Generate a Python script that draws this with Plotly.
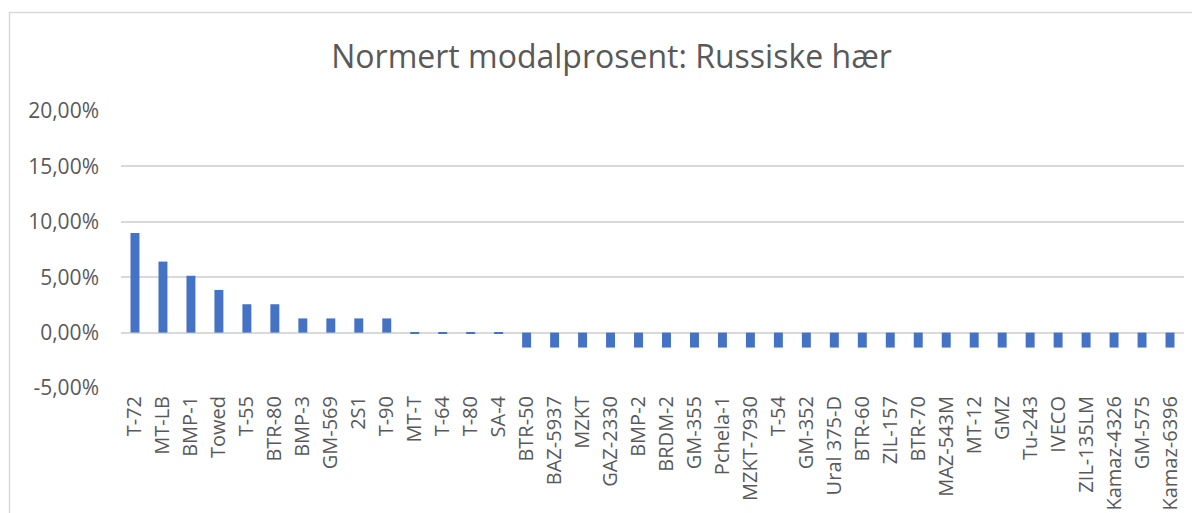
import plotly.graph_objects as go

categories = ["T-72", "MT-LB", "BMP-1", "Towed", "T-55", "BTR-80", "BMP-3", "GM-569", "2S1", "T-90",
              "MT-T", "T-64", "T-80", "SA-4", "BTR-50", "BAZ-5937", "MZKT", "GAZ-2330", "BMP-2", "BRDM-2",
              "GM-355", "Pchela-1", "MZKT-7930", "T-54", "GM-352", "Ural 375-D", "BTR-60", "ZIL-157",
              "BTR-70", "MAZ-543M", "MT-12", "GMZ", "Tu-243", "IVECO", "ZIL-135LM", "Kamaz-4326",
              "GM-575", "Kamaz-6396"]
values = [0.0898, 0.0641, 0.0513, 0.0385, 0.0256, 0.0256, 0.0128, 0.0128, 0.0128, 0.0128,
          -0.0005, -0.0005, -0.0005, -0.0005] + [-0.0135] * 24

tick_vals = [-0.05, 0.0, 0.05, 0.10, 0.15, 0.20]
tick_text = ["-5,00%", "0,00%", "5,00%", "10,00%", "15,00%", "20,00%"]

text_color = "#595959"
grid_color = "#D9D9D9"
font_family = "Open Sans, Liberation Sans, sans-serif"

# page body has an 8px default margin; compensate so the plot lands where the reference has it
OFF = 8
W, H = 1200 - OFF, 513 - OFF
L, R, T, B = 121 - OFF, 16, 111 - OFF, 125
plot_w = W - L - R
plot_h = H - T - B

fig = go.Figure()
fig.add_trace(go.Bar(x=categories, y=values, marker=dict(color="#4472C4", line=dict(width=0)),
                     hoverinfo="x+y"))

fig.update_layout(
    width=W, height=H,
    paper_bgcolor="white", plot_bgcolor="white",
    margin=dict(l=L, r=R, t=T, b=B, pad=0),
    bargap=0.68,
    showlegend=False,
    font=dict(family=font_family, color=text_color),
    title=dict(text="Normert modalprosent: Russiske hær", x=(611.5 - OFF) / W, xanchor="center",
               y=1 - (57 - OFF) / H, yanchor="middle", yref="container",
               font=dict(size=32, color=text_color, family=font_family)),
    xaxis=dict(type="category", tickangle=-90, tickfont=dict(size=20, color=text_color),
               showgrid=False, showline=False, ticks="", automargin=False,
               ticklabelstandoff=3),
    yaxis=dict(range=[-0.05, 0.20], tickvals=tick_vals, ticktext=tick_text,
               tickfont=dict(size=21, color=text_color),
               showgrid=True, gridcolor=grid_color, gridwidth=1.5,
               zeroline=True, zerolinecolor=grid_color, zerolinewidth=1.5,
               showline=False, ticks="", automargin=False,
               ticklabelstandoff=21),
    shapes=[dict(type="rect", xref="paper", yref="paper",
                 x0=(9.5 - 121) / plot_w, x1=(1215 - 121) / plot_w,
                 y0=-0.6, y1=1 + (111 - 12.5) / plot_h,
                 line=dict(color="#D9D9D9", width=1.5), fillcolor="rgba(0,0,0,0)", layer="below")],
)

fig.write_html("out.html")
